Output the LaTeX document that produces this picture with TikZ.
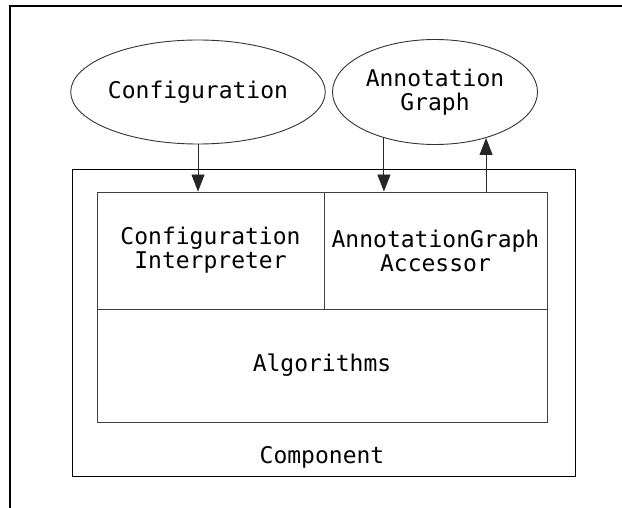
\documentclass[tikz,border=0pt]{standalone}
\usepackage{fontspec}
\setmonofont{DejaVu Sans Mono}
\usetikzlibrary{shapes.geometric,arrows.meta}
\tikzset{
  lbl/.style={font=\ttfamily\fontsize{23}{24}\selectfont, align=center, text=black},
  datanode/.style={ellipse, draw=black!80, line width=0.9pt, inner sep=0pt, lbl},
  part/.style={rectangle, draw=black!75, line width=0.9pt, inner sep=0pt, lbl},
  flow/.style={draw=black!85, line width=0.9pt, -{Triangle[width=13pt,length=17pt]}},
}
\begin{document}
\begin{tikzpicture}[x=1pt,y=-1pt]
  \useasboundingbox (0,0) rectangle (622,508);
  % page frame (top and left edges)
  \draw[line width=1.3pt] (10,508) -- (10,6) -- (622,6);

  % external data
  \node[datanode, minimum width=201pt, minimum height=104pt] (conf) at (198,92) {Configuration};
  \node[datanode, minimum width=205pt, minimum height=105pt] (ag) at (435,92) {Annotation\\Graph};

  % component and its parts
  \node[rectangle, draw=black, line width=1pt, minimum width=503pt, minimum height=306pt] (comp) at (323.5,323) {};
  \node[lbl, anchor=base] (complbl) at (322,463) {Component};
  \node[part, minimum width=227pt, minimum height=117pt] (ci) at (210.5,250.5) {Configuration\\Interpreter};
  \node[part, minimum width=223pt, minimum height=117pt] (aga) at (435.5,250.5) {AnnotationGraph\\Accessor};
  \node[part, minimum width=450pt, minimum height=113pt] (alg) at (322,365.5) {Algorithms};

  % data flow
  \draw[flow] (conf.south) -- (conf.south |- ci.north);
  \draw[flow] (ag.222.9) -- (ag.222.9 |- aga.north);
  \draw[flow] (ag.318.6 |- aga.north) -- (ag.318.6);
\end{tikzpicture}
\end{document}
